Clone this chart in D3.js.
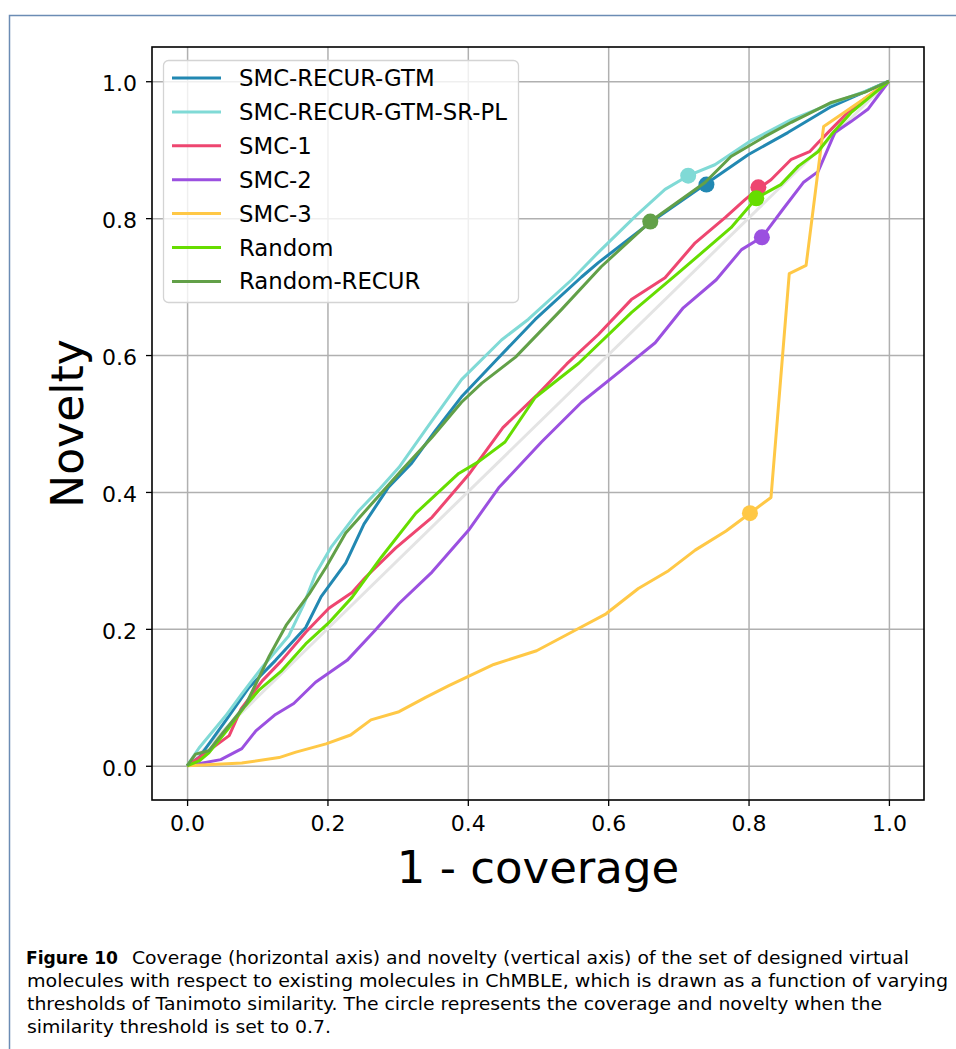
<!DOCTYPE html>
<html>
<head>
<meta charset="utf-8">
<script src="https://cdn.jsdelivr.net/npm/d3@7"></script>
<style>
  html, body { margin: 0; padding: 0; background: #fff; }
  svg { display: block; }
</style>
</head>
<body>
<svg id="chart" width="956" height="1049"></svg>
<script>
// ---------------- data ----------------
const seriesNames = ["SMC-RECUR-GTM", "SMC-RECUR-GTM-SR-PL", "SMC-1", "SMC-2", "SMC-3", "Random", "Random-RECUR"];
const seriesColors = ["#2288b2", "#80dad6", "#ee4670", "#9b50e0", "#ffc846", "#66dd00", "#62a048"];

const gtmX = [0, 0.017, 0.055, 0.088, 0.126, 0.169, 0.191, 0.226, 0.252, 0.287, 0.32, 0.354, 0.391, 0.44, 0.496, 0.562, 0.586, 0.662, 0.738, 0.8, 0.856, 0.918, 1.0];
const gtmY = [0, 0.012, 0.066, 0.114, 0.154, 0.202, 0.247, 0.296, 0.353, 0.407, 0.442, 0.49, 0.539, 0.592, 0.652, 0.714, 0.735, 0.795, 0.849, 0.893, 0.925, 0.963, 1.0];

const gtmSrX = [0, 0.017, 0.055, 0.078, 0.107, 0.145, 0.166, 0.183, 0.205, 0.245, 0.273, 0.302, 0.344, 0.391, 0.448, 0.486, 0.548, 0.586, 0.639, 0.681, 0.714, 0.752, 0.8, 0.861, 0.927, 0.966, 1.0];
const gtmSrY = [0, 0.026, 0.073, 0.105, 0.144, 0.19, 0.235, 0.28, 0.319, 0.373, 0.403, 0.436, 0.497, 0.564, 0.622, 0.652, 0.71, 0.75, 0.803, 0.842, 0.862, 0.878, 0.911, 0.944, 0.971, 0.985, 1.0];

const smc1X = [0, 0.024, 0.06, 0.077, 0.107, 0.135, 0.169, 0.202, 0.235, 0.254, 0.297, 0.349, 0.401, 0.45, 0.498, 0.541, 0.586, 0.633, 0.681, 0.724, 0.767, 0.795, 0.814, 0.832, 0.861, 0.887, 0.899, 0.918, 0.942, 0.965, 1.0];
const smc1Y = [0, 0.017, 0.044, 0.083, 0.124, 0.154, 0.195, 0.23, 0.253, 0.275, 0.318, 0.363, 0.425, 0.494, 0.541, 0.587, 0.63, 0.681, 0.713, 0.764, 0.801, 0.827, 0.843, 0.856, 0.886, 0.897, 0.91, 0.93, 0.955, 0.974, 1.0];

const smc2X = [0, 0.048, 0.078, 0.098, 0.126, 0.152, 0.183, 0.228, 0.268, 0.302, 0.349, 0.401, 0.444, 0.505, 0.562, 0.619, 0.667, 0.707, 0.754, 0.79, 0.819, 0.849, 0.878, 0.899, 0.923, 0.946, 0.97, 1.0];
const smc2Y = [0, 0.009, 0.025, 0.051, 0.075, 0.091, 0.122, 0.154, 0.198, 0.237, 0.283, 0.344, 0.406, 0.473, 0.531, 0.578, 0.618, 0.669, 0.71, 0.754, 0.772, 0.813, 0.852, 0.868, 0.925, 0.941, 0.959, 1.0];

const smc3X = [0, 0.078, 0.131, 0.155, 0.198, 0.233, 0.262, 0.302, 0.34, 0.373, 0.437, 0.498, 0.555, 0.597, 0.643, 0.686, 0.724, 0.768, 0.802, 0.832, 0.858, 0.882, 0.907, 0.93, 0.97, 1.0];
const smc3Y = [0, 0.004, 0.012, 0.02, 0.032, 0.045, 0.067, 0.079, 0.1, 0.117, 0.148, 0.168, 0.199, 0.222, 0.259, 0.285, 0.315, 0.343, 0.369, 0.392, 0.719, 0.731, 0.934, 0.95, 0.978, 1.0];

const randX = [0, 0.017, 0.031, 0.06, 0.081, 0.102, 0.135, 0.169, 0.202, 0.235, 0.277, 0.326, 0.387, 0.415, 0.453, 0.496, 0.558, 0.633, 0.7, 0.775, 0.811, 0.846, 0.871, 0.899, 0.918, 0.946, 0.974, 1.0];
const randY = [0, 0.007, 0.019, 0.056, 0.085, 0.11, 0.139, 0.178, 0.209, 0.246, 0.305, 0.369, 0.427, 0.444, 0.473, 0.538, 0.588, 0.662, 0.72, 0.786, 0.829, 0.849, 0.876, 0.897, 0.922, 0.954, 0.978, 1.0];

const randRecX = [0, 0.012, 0.031, 0.05, 0.084, 0.117, 0.141, 0.174, 0.198, 0.226, 0.259, 0.306, 0.349, 0.391, 0.42, 0.468, 0.533, 0.59, 0.66, 0.738, 0.775, 0.823, 0.861, 0.918, 0.966, 1.0];
const randRecY = [0, 0.017, 0.022, 0.047, 0.09, 0.16, 0.205, 0.251, 0.29, 0.34, 0.378, 0.432, 0.48, 0.531, 0.559, 0.597, 0.666, 0.729, 0.795, 0.852, 0.89, 0.919, 0.94, 0.969, 0.984, 1.0];

// circles: threshold 0.7
const markerX = [0.74, 0.714, 0.814, 0.819, 0.802, 0.811, 0.66];
const markerY = [0.849, 0.862, 0.845, 0.772, 0.369, 0.829, 0.795];

const diagX = [0, 1];
const diagY = [0, 1];

const tickValues = [0, 0.2, 0.4, 0.6, 0.8, 1.0];
const xLabel = "1 - coverage";
const yLabel = "Novelty";
const captionBold = "Figure 10";
const captionLines = [
  "Coverage (horizontal axis) and novelty (vertical axis) of the set of designed virtual",
  "molecules with respect to existing molecules in ChMBLE, which is drawn as a function of varying",
  "thresholds of Tanimoto similarity. The circle represents the coverage and novelty when the",
  "similarity threshold is set to 0.7."
];

const allX = [gtmX, gtmSrX, smc1X, smc2X, smc3X, randX, randRecX];
const allY = [gtmY, gtmSrY, smc1Y, smc2Y, smc3Y, randY, randRecY];

// ---------------- drawing ----------------
const svg = d3.select("#chart");
const FONT = "DejaVu Sans, sans-serif";

// page frame
svg.append("rect")
  .attr("x", 9.5).attr("y", 15.5).attr("width", 1000).attr("height", 1100)
  .attr("fill", "none").attr("stroke", "#6b8cb4").attr("stroke-width", 1.5);

const L = 152, R = 924, T = 47, B = 800;
const x = d3.scaleLinear().domain([-0.05, 1.05]).range([L, R]);
const y = d3.scaleLinear().domain([-0.05, 1.05]).range([B, T]);

svg.append("defs").append("clipPath").attr("id", "clip")
  .append("rect").attr("x", L).attr("y", T).attr("width", R - L).attr("height", B - T);

// grid
const gridX = svg.append("g").attr("transform", `translate(0,${B})`)
  .call(d3.axisBottom(x).tickValues(tickValues).tickSize(-(B - T)).tickFormat(""));
gridX.select(".domain").remove();
gridX.selectAll("line").attr("stroke", "#b0b0b0").attr("stroke-width", 1.5);

const gridY = svg.append("g").attr("transform", `translate(${L},0)`)
  .call(d3.axisLeft(y).tickValues(tickValues).tickSize(-(R - L)).tickFormat(""));
gridY.select(".domain").remove();
gridY.selectAll("line").attr("stroke", "#b0b0b0").attr("stroke-width", 1.5);

const plot = svg.append("g").attr("clip-path", "url(#clip)");
const line = d3.line().x(d => x(d[0])).y(d => y(d[1]));

// diagonal reference
plot.append("path")
  .attr("d", line(d3.zip(diagX, diagY)))
  .attr("fill", "none").attr("stroke", "#e4e4e4").attr("stroke-width", 3);

seriesNames.forEach((name, i) => {
  plot.append("path")
    .attr("d", line(d3.zip(allX[i], allY[i])))
    .attr("fill", "none")
    .attr("stroke", seriesColors[i])
    .attr("stroke-width", 3)
    .attr("stroke-linejoin", "round");
  plot.append("circle")
    .attr("cx", x(markerX[i])).attr("cy", y(markerY[i]))
    .attr("r", 8).attr("fill", seriesColors[i]);
});

// axes
const fmt = d3.format(".1f");
const ax = svg.append("g").attr("transform", `translate(0,${B})`)
  .call(d3.axisBottom(x).tickValues(tickValues).tickSize(6).tickPadding(9).tickFormat(fmt));
ax.select(".domain").remove();
ax.selectAll("line").attr("stroke", "#000").attr("stroke-width", 1.3);
ax.selectAll("text").attr("font-family", FONT).attr("font-size", 22).attr("fill", "#000");

const ay = svg.append("g").attr("transform", `translate(${L},0)`)
  .call(d3.axisLeft(y).tickValues(tickValues).tickSize(6).tickPadding(9).tickFormat(fmt));
ay.select(".domain").remove();
ay.selectAll("line").attr("stroke", "#000").attr("stroke-width", 1.3);
ay.selectAll("text").attr("font-family", FONT).attr("font-size", 22).attr("fill", "#000").attr("dy", "0.43em");

// spines
svg.append("rect").attr("x", L).attr("y", T).attr("width", R - L).attr("height", B - T)
  .attr("fill", "none").attr("stroke", "#000").attr("stroke-width", 1.6);

// axis labels
svg.append("text").attr("x", (L + R) / 2).attr("y", 883)
  .attr("text-anchor", "middle").attr("font-family", FONT).attr("font-size", 45)
  .text(xLabel);
svg.append("text").attr("transform", `translate(83,${(T + B) / 2}) rotate(-90)`)
  .attr("text-anchor", "middle").attr("font-family", FONT).attr("font-size", 44)
  .text(yLabel);

// legend
const lg = svg.append("g");
lg.append("rect").attr("x", 163.5).attr("y", 60.5).attr("width", 355).attr("height", 242).attr("rx", 5)
  .attr("fill", "#fff").attr("fill-opacity", 0.8).attr("stroke", "#d4d4d4").attr("stroke-width", 1.3);
seriesNames.forEach((name, i) => {
  const yy = 78 + i * 33.9;
  lg.append("line").attr("x1", 172).attr("x2", 221).attr("y1", yy).attr("y2", yy)
    .attr("stroke", seriesColors[i]).attr("stroke-width", 3);
  lg.append("text").attr("x", 239).attr("y", yy + 8)
    .attr("font-family", FONT).attr("font-size", 22.8).text(name);
});

// caption
const capFont = "DejaVu Sans, sans-serif";
const baselines = [964, 987, 1010, 1033];
const capStarts = [132, 27, 27, 27];
const capEnds = [909, 948, 882, 331];
svg.append("text").attr("x", 26).attr("y", baselines[0])
  .attr("font-family", capFont).attr("font-size", 18).attr("font-weight", "bold")
  .attr("textLength", 92).attr("lengthAdjust", "spacingAndGlyphs")
  .text(captionBold);
captionLines.forEach((t, i) => {
  svg.append("text").attr("x", capStarts[i]).attr("y", baselines[i])
    .attr("font-family", capFont).attr("font-size", 18)
    .attr("textLength", capEnds[i] - capStarts[i]).attr("lengthAdjust", "spacingAndGlyphs")
    .text(t);
});
</script>
</body>
</html>
